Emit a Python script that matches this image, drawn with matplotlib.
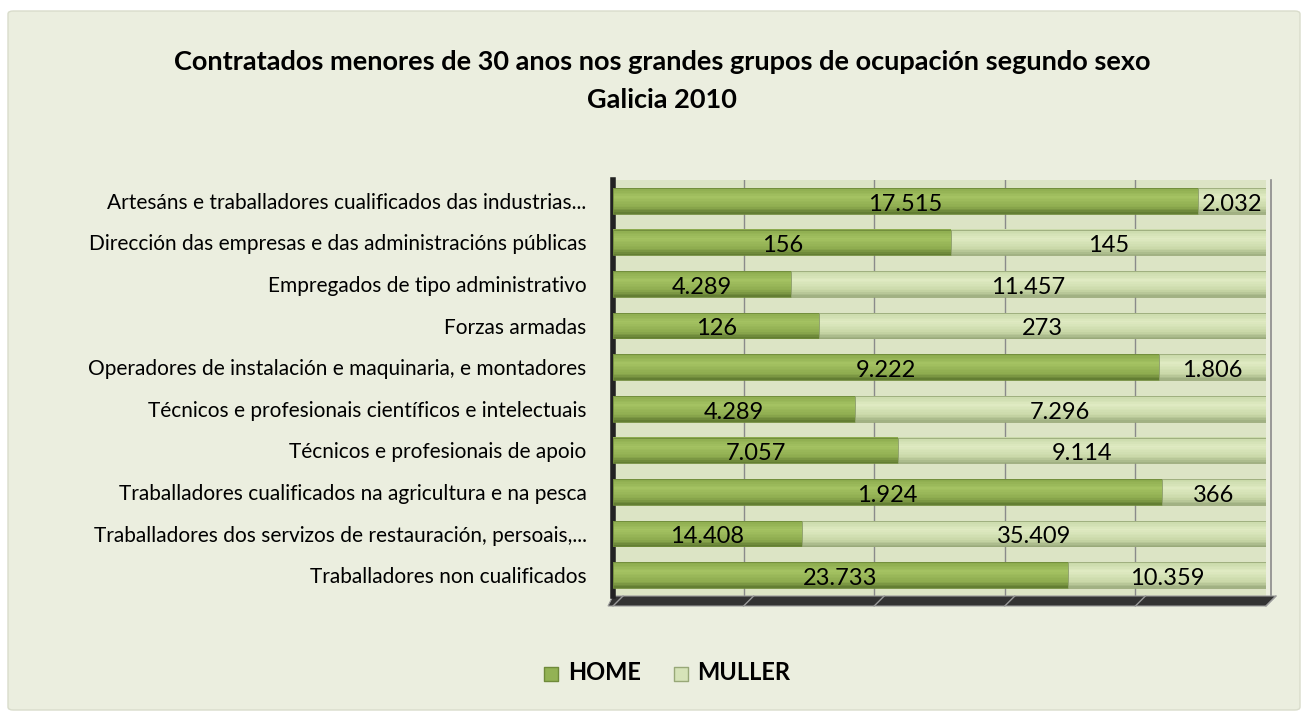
import numpy as np
import matplotlib.pyplot as plt
from matplotlib.patches import Polygon, FancyBboxPatch
from matplotlib.colors import LinearSegmentedColormap

# dati
categorie = ["Artesáns e traballadores cualificados das industrias...",
             "Dirección das empresas e das administracións públicas",
             "Empregados de tipo administrativo",
             "Forzas armadas",
             "Operadores de instalación e maquinaria, e montadores",
             "Técnicos e profesionais científicos e intelectuais",
             "Técnicos e profesionais de apoio",
             "Traballadores cualificados na agricultura e na pesca",
             "Traballadores dos servizos de restauración, persoais,...",
             "Traballadores non cualificados"]
home = [17515, 156, 4289, 126, 9222, 4289, 7057, 1924, 14408, 23733]
muller = [2032, 145, 11457, 273, 1806, 7296, 9114, 366, 35409, 10359]

col_home = "#93b254"
col_muller = "#d6e3b8"
fondo = "#ebeedf"

# sfumature tipo cilindro (alto -> basso)
cm_home = LinearSegmentedColormap.from_list("h", [(0, "#8aa94c"), (0.35, "#a4c262"),
                                                  (0.75, "#8dab4f"), (1, "#5e782f")])
cm_muller = LinearSegmentedColormap.from_list("m", [(0, "#c8d8a8"), (0.35, "#dfeac2"),
                                                    (0.75, "#c9d8a8"), (1, "#9cac7e")])

def fmt(v):
    return "{:,}".format(v).replace(",", ".")

home = np.array(home, dtype=float)
muller = np.array(muller, dtype=float)
tot = home + muller
ph = home / tot
pm = muller / tot
y = np.arange(len(categorie))

fig = plt.figure(figsize=(13.06, 7.16), dpi=100)
fig.patch.set_facecolor("white")
fig.patches.append(FancyBboxPatch((8/1306, 6/716), 1292/1306, 699/716,
                                  boxstyle="round,pad=0,rounding_size=0.004",
                                  transform=fig.transFigure, facecolor=fondo,
                                  edgecolor="#d9dccb", lw=1, zorder=-5))

ax = fig.add_axes([613/1306, 1-596/716, 653/1306, 416/716])
ax.set_zorder(2)
ax.set_facecolor("#dce4c5")

h = 0.62
n = 16
for k in range(n):
    t = (k + 0.5) / n
    yy = y - h/2 + (k + 0.5) * h / n
    ax.barh(yy, ph, height=h/n*1.02, color=cm_home(t), lw=0, zorder=3)
    ax.barh(yy, pm, left=ph, height=h/n*1.02, color=cm_muller(t), lw=0, zorder=3)
ax.barh(y, ph, height=h, fill=False, edgecolor="#6f8a3a", lw=0.6, zorder=4)
ax.barh(y, pm, left=ph, height=h, fill=False, edgecolor="#98a878", lw=0.6, zorder=4)

for i in range(len(y)):
    ax.text(ph[i]/2, y[i]+0.08, fmt(int(home[i])), ha="center", va="center",
            fontsize=17, family="Lato", color="black", zorder=5)
    ax.text(ph[i]+pm[i]/2, y[i]+0.08, fmt(int(muller[i])), ha="center", va="center",
            fontsize=17, family="Lato", color="black", zorder=5)
ax.set_xlim(0, 1)
ax.set_ylim(len(y)-0.5, -0.5)
ax.set_xticks([0.2, 0.4, 0.6, 0.8])
ax.set_xticklabels([])
ax.tick_params(axis="x", length=0)
ax.tick_params(axis="y", length=0, pad=19)
ax.grid(axis="x", color="#8a8a8a", lw=1, zorder=1)
ax.set_yticks(y)
ax.set_yticklabels(categorie, fontsize=15, family="Lato")
for s in ["top", "right"]:
    ax.spines[s].set_visible(False)
ax.spines["bottom"].set_visible(False)
ax.spines["left"].set_color("#222222")
ax.spines["left"].set_linewidth(4)

# pavimento 3D e parete destra
dx = 10/653
dy = 10/416
ax.add_patch(Polygon([(0, 0), (1+dx, 0), (1, -dy), (-dx/2, -dy)], closed=True,
                     transform=ax.transAxes, facecolor="#333333", edgecolor="#9a9a9a",
                     lw=0.8, clip_on=False, zorder=2))
for xt in [0, 0.2, 0.4, 0.6, 0.8, 1.0]:
    ax.plot([xt + dx, xt], [0, -dy], transform=ax.transAxes, color="#9a9a9a",
            lw=1, clip_on=False, zorder=2)
ax.plot([1 + dx/2, 1 + dx/2], [0, 1], transform=ax.transAxes, color="#8a8a8a",
        lw=1.2, clip_on=False, zorder=1)

fig.text(662/1306, 1-62/716, "Contratados menores de 30 anos nos grandes grupos de ocupación segundo sexo",
         ha="center", va="center", fontsize=19.5, fontweight="bold", family="Lato")
fig.text(662/1306, 1-100/716, "Galicia 2010", ha="center", va="center",
         fontsize=19.5, fontweight="bold", family="Lato")

h1 = ax.scatter([], [], marker="s", s=110, color=col_home, edgecolor="#6f8a3a")
h2 = ax.scatter([], [], marker="s", s=110, color=col_muller, edgecolor="#98a878")
fig.legend([h1, h2], ["HOME", "MULLER"], loc="center", bbox_to_anchor=(665/1306, 1-673/716),
           ncol=2, frameon=False, prop={"family": "Lato", "weight": "bold", "size": 17},
           handletextpad=0.2, columnspacing=1.2, handlelength=1.0)

fig.savefig("out.png", dpi=100, facecolor=fig.get_facecolor())
